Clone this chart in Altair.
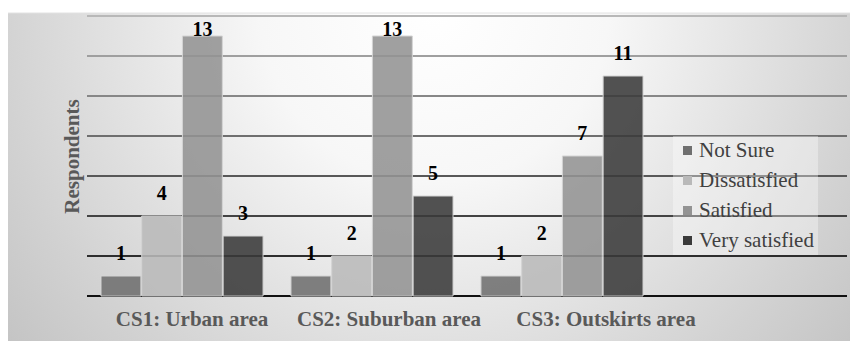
import altair as alt
import pandas as pd

categories = ["CS1: Urban area", "CS2: Suburban area", "CS3: Outskirts area"]
series = ["Not Sure", "Dissatisfied", "Satisfied", "Very satisfied"]
not_sure = [1, 1, 1]
dissatisfied = [4, 2, 2]
satisfied = [13, 13, 7]
very_satisfied = [3, 5, 11]
grid_values = [2, 4, 6, 8, 10, 12, 14]
colors = ["#6f6f6f", "#b9b9b9", "#939393", "#3a3a3a"]

rows = []
for i, c in enumerate(categories):
    for s, vals in zip(series, [not_sure, dissatisfied, satisfied, very_satisfied]):
        rows.append({"category": c, "series": s, "value": vals[i]})
df = pd.DataFrame(rows)
grid_df = pd.DataFrame({"v": grid_values})
base_df = pd.DataFrame({"v": [0]})
bg_df = pd.DataFrame({"a": [0]})

serif = "'Liberation Serif', 'Times New Roman', 'DejaVu Serif', serif"
x_domain = categories + [" "]

x_enc = alt.X(
    "category:N",
    scale=alt.Scale(domain=x_domain, paddingInner=0.147, paddingOuter=0.0737),
    sort=x_domain,
    axis=alt.Axis(
        title=None, domain=False, ticks=False, labelAngle=0, zindex=2,
        labelFont=serif, labelFontWeight="bold", labelFontSize=21,
        labelColor="#595959", labelPadding=12, labelLimit=0,
        labelOffset={"condition": [
            {"test": "datum.value == 'CS2: Suburban area'", "value": 17},
            {"test": "datum.value == 'CS3: Outskirts area'", "value": 44},
        ], "value": 10},
    ),
)
xoff_enc = alt.XOffset("series:N", scale=alt.Scale(domain=series, paddingInner=0.02, paddingOuter=0), sort=series)
y_axis = alt.Axis(
    title="Respondents", labels=False, ticks=False, domain=False, grid=False, zindex=2,
    titleFont=serif, titleFontWeight="bold", titleFontSize=21, titleColor="#595959",
    titlePadding=5,
)
y_scale = alt.Scale(domain=[0, 14], nice=False, zero=True)

gradient = alt.RadialGradient(
    gradient="radial",
    stops=[
        alt.GradientStop(color="#ffffff", offset=0),
        alt.GradientStop(color="#f7f7f7", offset=0.3),
        alt.GradientStop(color="#d2d2d2", offset=0.75),
        alt.GradientStop(color="#bfbfbf", offset=1),
    ],
    x1=0.5, y1=0.3, r1=0, x2=0.5, y2=0.3, r2=0.68,
)

bg = alt.Chart(bg_df).mark_rect(fill=gradient, stroke="#e2e2e2", strokeWidth=1).encode(
    x=alt.value(-80), x2=alt.value(775), y=alt.value(-3), y2=alt.value(330)
)

grid = alt.Chart(grid_df).mark_rule(strokeWidth=2).encode(
    y=alt.Y("v:Q", scale=y_scale, axis=y_axis),
    stroke=alt.Stroke("v:Q", scale=alt.Scale(domain=[2, 14], range=["#2e2e2e", "#b8b8b8"]), legend=None),
)

baseline = alt.Chart(base_df).mark_rule(strokeWidth=2, color="#111111").encode(
    y=alt.Y("v:Q", scale=y_scale, axis=y_axis),
)

bars = alt.Chart(df).mark_bar(stroke="#d4d4d4", strokeWidth=1, fillOpacity=0.88).encode(
    x=x_enc,
    xOffset=xoff_enc,
    y=alt.Y("value:Q", scale=y_scale, axis=y_axis),
    color=alt.Color(
        "series:N",
        scale=alt.Scale(domain=series, range=colors),
        legend=alt.Legend(
            title=None, orient="none", legendX=586, legendY=120,
            symbolType="square", symbolSize=81, symbolStrokeWidth=0,
            labelFont=serif, labelFontSize=21, labelColor="#404040",
            rowPadding=8, padding=4, fillColor="rgba(255,255,255,0.35)",
            labelOffset=1, symbolOpacity=1,
        ),
    ),
)

labels = alt.Chart(df).transform_calculate(
    label_y="min(datum.value + 0.8, 13)"
).mark_text(
    font=serif, fontWeight="bold", fontSize=20, color="black", baseline="alphabetic"
).encode(
    x=x_enc,
    xOffset=xoff_enc,
    y=alt.Y("label_y:Q", scale=y_scale, axis=y_axis),
    text="value:Q",
)

chart = alt.layer(bg, grid, baseline, bars, labels).properties(
    width=760,
    height=280,
    autosize=alt.AutoSizeParams(type="none"),
    padding={"left": 79, "top": 8, "right": 3, "bottom": 45},
    background="white",
).configure_view(stroke=None)

chart.save("out.html", embed_options={"renderer": "svg", "actions": False})
